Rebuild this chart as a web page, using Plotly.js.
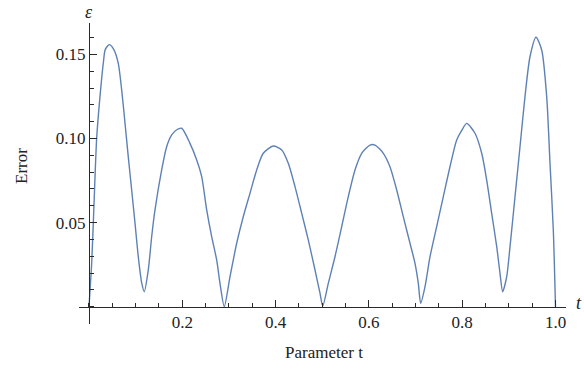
<!DOCTYPE html>
<html>
<head>
<meta charset="utf-8">
<script src="https://cdn.plot.ly/plotly-3.0.1.min.js"></script>
<style>html,body{margin:0;padding:0;background:#fff;}#chart{width:584px;height:370px;}</style>
</head>
<body>
<div id="chart"></div>
<script>
// Parameter t values and error values
var tValues = [0, 0.0058, 0.0107, 0.0165, 0.0236, 0.0307, 0.0350, 0.0435, 0.0530, 0.0628, 0.0701, 0.0772, 0.0842, 0.0915, 0.0986, 0.1057, 0.1130, 0.1185, 0.1271, 0.1344, 0.1415, 0.1558, 0.1665, 0.1773, 0.1880, 0.1987, 0.2165, 0.2309, 0.2416, 0.2523, 0.2630, 0.2737, 0.2808, 0.2900, 0.3023, 0.3166, 0.3307, 0.3451, 0.3595, 0.3736, 0.3951, 0.4131, 0.4272, 0.4416, 0.4560, 0.4701, 0.4845, 0.4952, 0.5010, 0.5130, 0.5273, 0.5417, 0.5558, 0.5702, 0.5846, 0.6024, 0.6131, 0.6309, 0.6452, 0.6596, 0.6737, 0.6881, 0.6988, 0.7059, 0.7110, 0.7203, 0.7310, 0.7453, 0.7595, 0.7738, 0.7882, 0.7990, 0.8096, 0.8274, 0.8418, 0.8525, 0.8632, 0.8740, 0.8810, 0.8868, 0.8954, 0.9025, 0.9132, 0.9239, 0.9346, 0.9453, 0.9582, 0.9704, 0.9811, 0.9882, 0.9953, 1.0];
var errorValues = [0, 0.026, 0.0605, 0.1003, 0.1249, 0.1449, 0.1530, 0.1558, 0.1530, 0.1447, 0.1288, 0.1092, 0.0892, 0.0694, 0.0498, 0.0297, 0.0141, 0.0089, 0.0218, 0.0416, 0.0575, 0.0813, 0.0951, 0.1021, 0.1052, 0.1061, 0.0971, 0.0872, 0.0773, 0.0575, 0.0416, 0.0278, 0.0139, 0.0001, 0.0178, 0.0377, 0.0535, 0.0674, 0.0813, 0.0912, 0.0955, 0.0932, 0.0853, 0.0714, 0.0555, 0.0397, 0.0218, 0.0080, 0.0004, 0.0139, 0.0297, 0.0476, 0.0654, 0.0813, 0.0912, 0.0961, 0.0961, 0.0912, 0.0832, 0.0694, 0.0535, 0.0377, 0.0258, 0.0139, 0.0020, 0.0119, 0.0297, 0.0476, 0.0654, 0.0832, 0.0991, 0.1048, 0.1090, 0.1031, 0.0912, 0.0753, 0.0555, 0.0357, 0.0199, 0.0089, 0.0178, 0.0357, 0.0654, 0.0951, 0.1249, 0.1486, 0.1602, 0.1526, 0.1249, 0.0853, 0.0456, 0];

var xTickVals = [0.2, 0.4, 0.6, 0.8, 1.0];
var xTickText = ['0.2', '0.4', '0.6', '0.8', '1.0'];
var yTickVals = [0.05, 0.10, 0.15];
var yTickText = ['0.05', '0.10', '0.15'];

var xRange = [-0.0214, 1.0225];
var yRange = [-0.0103, 0.16867];

var W = 584, H = 370;
var M = {l: 79, r: 18, t: 23, b: 46};
var pw = W - M.l - M.r, ph = H - M.t - M.b;
function px(x) { return (x - M.l) / pw; }
function py(y) { return (H - M.b - y) / ph; }

var axisColor = '#2a2a2a';
var textColor = '#222222';
var fontFam = '"Liberation Serif", "DejaVu Serif", serif';

var trace = {
  x: tValues,
  y: errorValues,
  type: 'scatter',
  mode: 'lines',
  line: {color: '#5E81B5', width: 1.4, shape: 'spline', smoothing: 0.7},
  hoverinfo: 'skip'
};

var layout = {
  width: W, height: H,
  margin: M,
  paper_bgcolor: '#ffffff',
  plot_bgcolor: '#ffffff',
  showlegend: false,
  font: {family: fontFam, size: 17, color: textColor},
  xaxis: {
    range: xRange,
    anchor: 'free',
    position: (0 - yRange[0]) / (yRange[1] - yRange[0]),
    showgrid: false, zeroline: false,
    showline: true, linecolor: axisColor, linewidth: 1,
    ticks: 'inside', ticklen: 7, tickwidth: 1, tickcolor: axisColor,
    tickmode: 'array', tickvals: xTickVals, ticktext: xTickText,
    tickfont: {family: fontFam, size: 17, color: textColor},
    minor: {tickmode: 'linear', tick0: 0, dtick: 0.05, ticks: 'inside', ticklen: 4, tickwidth: 1, tickcolor: axisColor, showgrid: false}
  },
  yaxis: {
    range: yRange,
    anchor: 'free',
    position: (0 - xRange[0]) / (xRange[1] - xRange[0]),
    showgrid: false, zeroline: false,
    showline: true, linecolor: axisColor, linewidth: 1,
    ticks: 'inside', ticklen: 7, tickwidth: 1, tickcolor: axisColor,
    tickmode: 'array', tickvals: yTickVals, ticktext: yTickText,
    tickfont: {family: fontFam, size: 17, color: textColor},
    minor: {tickmode: 'linear', tick0: 0, dtick: 0.01, ticks: 'inside', ticklen: 4, tickwidth: 1, tickcolor: axisColor, showgrid: false}
  },
  annotations: [
    {text: 'Error', xref: 'paper', yref: 'paper', x: px(21), y: py(166), textangle: -90, showarrow: false, xanchor: 'center', yanchor: 'middle', font: {family: fontFam, size: 17, color: textColor}},
    {text: 'Parameter t', xref: 'paper', yref: 'paper', x: px(324), y: py(352), showarrow: false, xanchor: 'center', yanchor: 'middle', font: {family: fontFam, size: 17, color: textColor}},
    {text: '<i>ε</i>', xref: 'paper', yref: 'paper', x: px(89), y: py(12), showarrow: false, xanchor: 'center', yanchor: 'middle', font: {family: fontFam, size: 18, color: textColor}},
    {text: '<i>t</i>', xref: 'paper', yref: 'paper', x: px(579), y: py(303), showarrow: false, xanchor: 'center', yanchor: 'middle', font: {family: fontFam, size: 18, color: textColor}}
  ]
};

Plotly.newPlot('chart', [trace], layout, {staticPlot: true, displayModeBar: false});
</script>
</body>
</html>
